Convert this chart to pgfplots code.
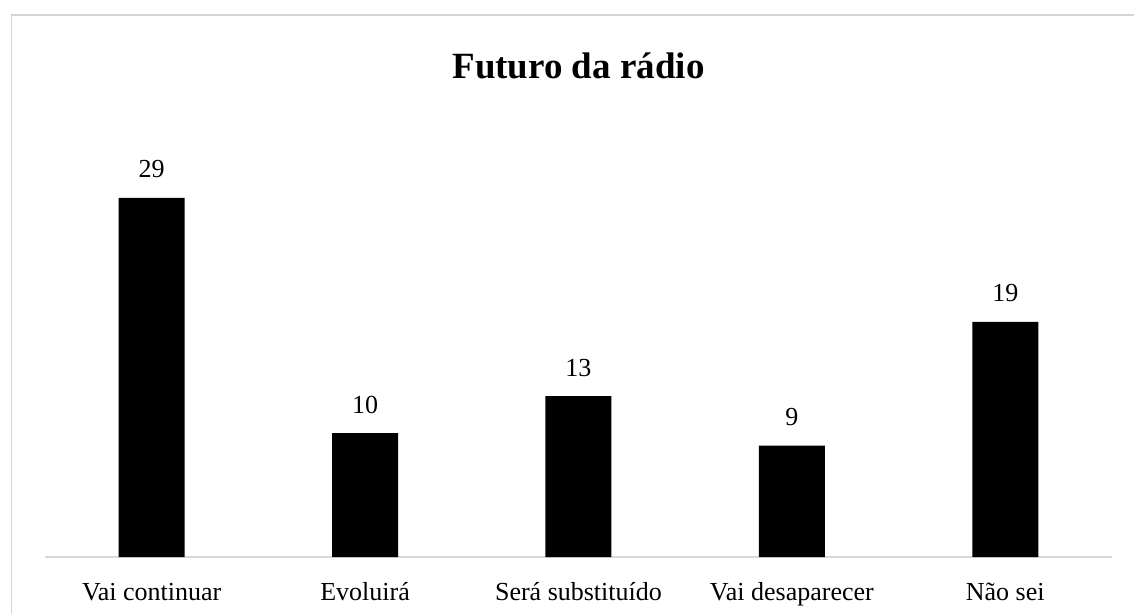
\documentclass[border=0pt]{standalone}
\usepackage{fontspec}
\setmainfont{Liberation Serif}
\usepackage{pgfplots}
\pgfplotsset{compat=1.18}
\begin{document}
\begin{tikzpicture}
\clip (0,0) rectangle (1134bp,614bp);
\fill[white] (0,0) rectangle (1134bp,614bp);
\draw[black!17, line width=1.3bp] (11.5bp,-20bp) -- (11.5bp,599bp) -- (1160bp,599bp);
\node[font=\bfseries\fontsize{37bp}{42bp}\selectfont, anchor=base] at (578.5bp,535bp) {Futuro da rádio};
\begin{axis}[
  at={(45bp,57bp)}, anchor=south west,
  scale only axis, width=1067bp, height=371.4bp,
  xmin=-0.5, xmax=4.5, ymin=0, ymax=30,
  ybar, bar width=66bp,
  axis y line=none,
  axis x line*=bottom,
  x axis line style={black!15, line width=1.3bp},
  xtick={0,1,2,3,4},
  xticklabels={Vai continuar, Evoluirá, Será substituído, Vai desaparecer, Não sei},
  major tick length=0pt,
  xticklabel style={anchor=base, yshift=-43bp, font=\fontsize{26bp}{30bp}\selectfont},
  ytick=\empty,
  nodes near coords,
  nodes near coords style={anchor=base, yshift=20bp, font=\fontsize{26bp}{30bp}\selectfont},
  /pgf/number format/assume math mode=true,
  clip=false,
]
\addplot[fill=black, draw=none] coordinates {(0,29) (1,10) (2,13) (3,9) (4,19)};
\end{axis}
\end{tikzpicture}
\end{document}
